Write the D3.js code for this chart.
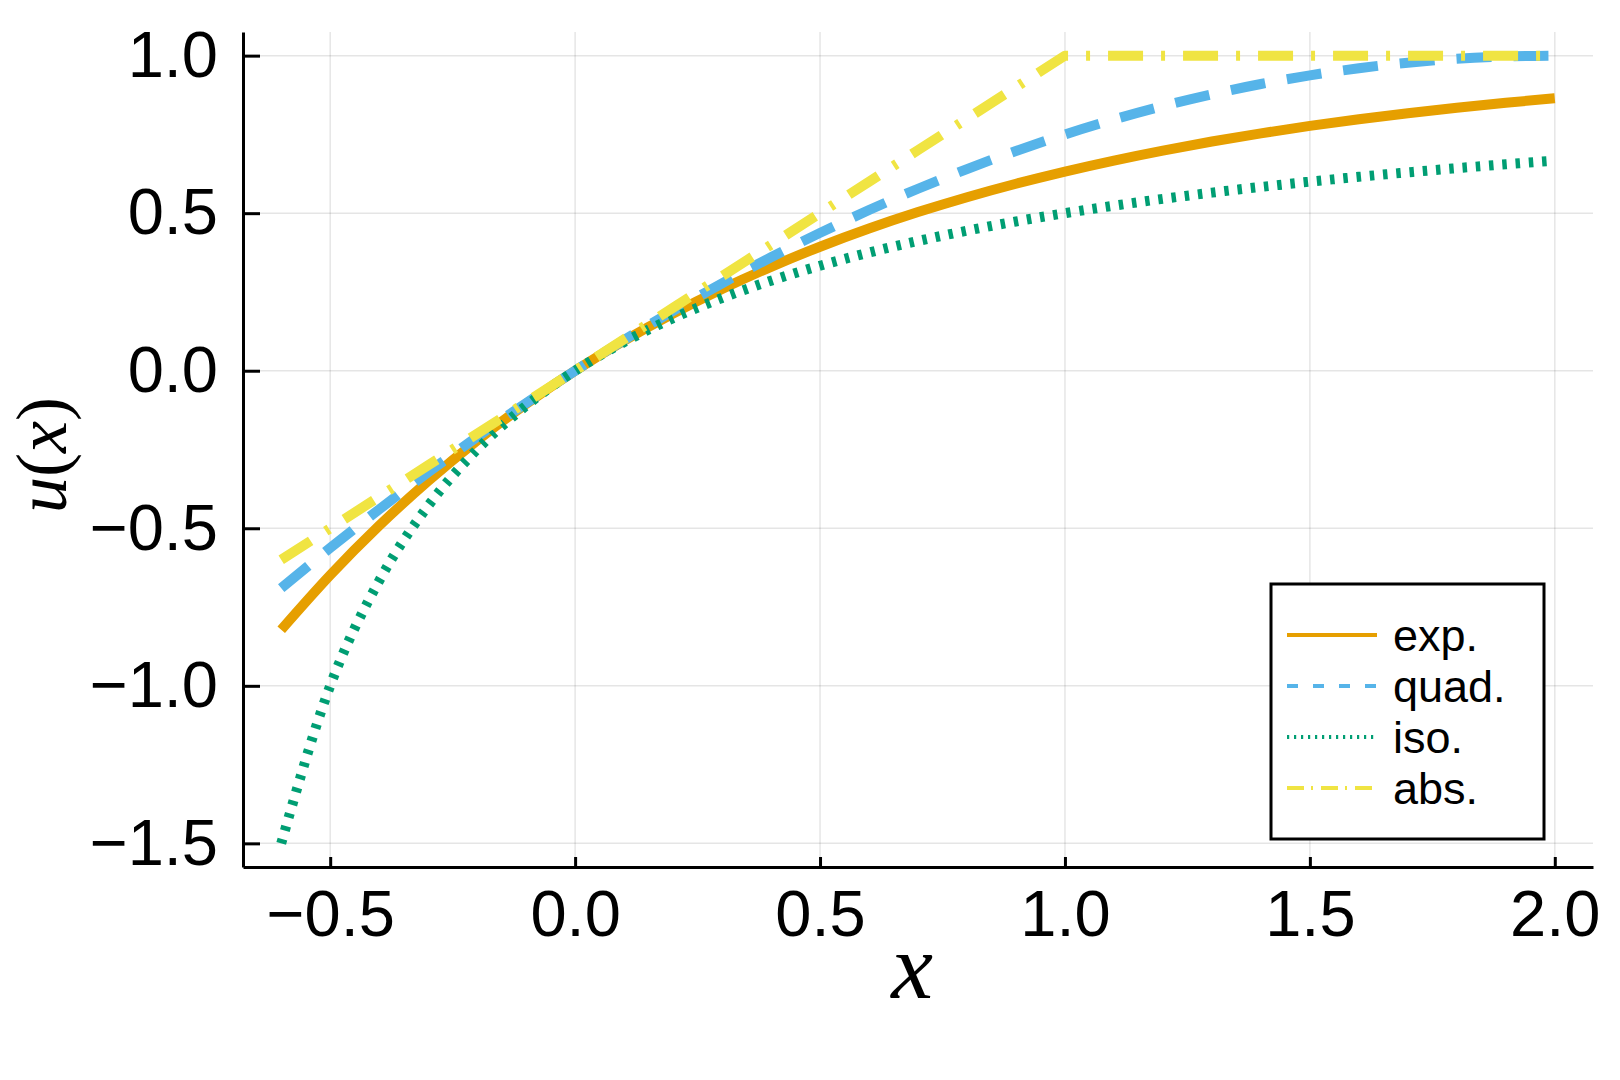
<!DOCTYPE html>
<html>
<head>
<meta charset="utf-8">
<script src="https://cdn.jsdelivr.net/npm/d3@7/dist/d3.min.js"></script>
<style>
  body { margin: 0; background: #fff; }
  svg { display: block; }
</style>
</head>
<body>
<div id="chart"></div>
<script>
'use strict';

// values
const xs = [-0.6, -0.5, -0.4, -0.3, -0.2, -0.1, 0.0, 0.1, 0.2, 0.3, 0.4, 0.5, 0.6,
    0.7, 0.8, 0.9, 1.0, 1.1, 1.2, 1.3, 1.4, 1.5, 1.6, 1.7, 1.8, 1.9, 2.0];
const expVals = [-0.8221, -0.6487, -0.4918, -0.3499, -0.2214, -0.1052, 0.0, 0.0952, 0.1813,
    0.2592, 0.3297, 0.3935, 0.4512, 0.5034, 0.5507, 0.5934, 0.6321, 0.6671, 0.6988,
    0.7275, 0.7534, 0.7769, 0.7981, 0.8173, 0.8347, 0.8504, 0.8647];
const quadVals = [-0.69, -0.5625, -0.44, -0.3225, -0.21, -0.1025, 0.0, 0.0975, 0.19,
    0.2775, 0.36, 0.4375, 0.51, 0.5775, 0.64, 0.6975, 0.75, 0.7975, 0.84,
    0.8775, 0.91, 0.9375, 0.96, 0.9775, 0.99, 0.9975, 1.0];
const isoVals = [-1.5, -1.0, -0.6667, -0.4286, -0.25, -0.1111, 0.0, 0.0909, 0.1667,
    0.2308, 0.2857, 0.3333, 0.375, 0.4118, 0.4444, 0.4737, 0.5, 0.5238, 0.5455,
    0.5652, 0.5833, 0.6, 0.6154, 0.6296, 0.6429, 0.6552, 0.6667];
const absVals = [-0.6, -0.5, -0.4, -0.3, -0.2, -0.1, 0.0, 0.1, 0.2, 0.3, 0.4, 0.5, 0.6,
    0.7, 0.8, 0.9, 1.0, 1.0, 1.0, 1.0, 1.0, 1.0, 1.0, 1.0, 1.0, 1.0, 1.0];
const xTicks = [-0.5, 0.0, 0.5, 1.0, 1.5, 2.0];
const yTicks = [-1.5, -1.0, -0.5, 0.0, 0.5, 1.0];
const names = ['exp.', 'quad.', 'iso.', 'abs.'];

const series = [
    {name: names[0], vals: expVals, color: '#E69F00', dash: null, legDash: null, curve: d3.curveMonotoneX},
    {name: names[1], vals: quadVals, color: '#56B4E9', dash: '35,22', legDash: '11,15', curve: d3.curveMonotoneX},
    {name: names[2], vals: isoVals, color: '#009E73', dash: '4.5,8.8', legDash: '2.2,4.8', curve: d3.curveMonotoneX},
    {name: names[3], vals: absVals, color: '#F0E442', dash: '35,18,4,18', legDash: '17,7,2,8', curve: d3.curveLinear}
];

const width = 1620;
const height = 1080;
const pLeft = 243, pRight = 1593, pTop = 32, pBottom = 867;
const sans = '"Liberation Sans", Arial, Helvetica, sans-serif';
const serif = '"Liberation Serif", "Times New Roman", serif';

const svg = d3.select('#chart').append('svg')
    .attr('width', width)
    .attr('height', height);
svg.append('rect').attr('width', width).attr('height', height).attr('fill', '#fff');

const x = d3.scaleLinear().domain([-0.678, 2.078]).range([pLeft, pRight]);
const y = d3.scaleLinear().domain([-1.575, 1.075]).range([pBottom, pTop]);

// grid
svg.append('g')
    .selectAll('line')
    .data(xTicks)
    .enter()
    .append('line')
    .attr('x1', d => x(d)).attr('x2', d => x(d))
    .attr('y1', pTop).attr('y2', pBottom)
    .attr('stroke', '#000').attr('stroke-opacity', 0.1).attr('stroke-width', 1.5);
svg.append('g')
    .selectAll('line')
    .data(yTicks)
    .enter()
    .append('line')
    .attr('y1', d => y(d)).attr('y2', d => y(d))
    .attr('x1', pLeft).attr('x2', pRight)
    .attr('stroke', '#000').attr('stroke-opacity', 0.1).attr('stroke-width', 1.5);

// curves
const plot = svg.append('g');
series.forEach(s => {
    const line = d3.line()
        .x((d, i) => x(xs[i]))
        .y(d => y(d))
        .curve(s.curve);
    plot.append('path')
        .datum(s.vals)
        .attr('d', line)
        .attr('fill', 'none')
        .attr('stroke', s.color)
        .attr('stroke-width', 10)
        .attr('stroke-linecap', 'butt')
        .attr('stroke-linejoin', 'round')
        .attr('stroke-dasharray', s.dash);
});

// axes
const fmt = d3.format('.1f');
const xAxis = svg.append('g')
    .attr('transform', `translate(0,${pBottom})`)
    .call(d3.axisBottom(x).tickValues(xTicks).tickFormat(fmt)
        .tickSizeInner(-10).tickSizeOuter(0).tickPadding(23));
const yAxis = svg.append('g')
    .attr('transform', `translate(${pLeft},0)`)
    .call(d3.axisLeft(y).tickValues(yTicks).tickFormat(fmt)
        .tickSizeInner(-17).tickSizeOuter(0).tickPadding(25));
[xAxis, yAxis].forEach(a => {
    a.select('.domain').attr('stroke', '#000').attr('stroke-width', 3);
    a.selectAll('.tick line').attr('stroke', '#000').attr('stroke-width', 3);
    a.selectAll('.tick text')
        .attr('fill', '#000')
        .style('font-family', sans)
        .style('font-size', '65px');
});

// axis labels
svg.append('text')
    .attr('x', 912).attr('y', 998)
    .attr('text-anchor', 'middle')
    .style('font-family', serif)
    .style('font-style', 'italic')
    .style('font-size', '94px')
    .text('x');

const yl = svg.append('text')
    .attr('transform', 'translate(66,455) rotate(-90)')
    .attr('text-anchor', 'middle')
    .style('font-family', serif)
    .style('font-size', '72px');
yl.append('tspan').style('font-style', 'italic').text('u');
yl.append('tspan').text('(');
yl.append('tspan').style('font-style', 'italic').text('x');
yl.append('tspan').text(')');

// legend
const leg = svg.append('g');
leg.append('rect')
    .attr('x', 1271).attr('y', 584)
    .attr('width', 273).attr('height', 255)
    .attr('fill', '#fff')
    .attr('stroke', '#000')
    .attr('stroke-width', 3);
const rowY = d3.scalePoint().domain(names).range([635, 788]);
const rows = leg.selectAll('g')
    .data(series)
    .enter()
    .append('g')
    .attr('transform', d => `translate(0,${rowY(d.name)})`);
rows.append('line')
    .attr('x1', 1287).attr('x2', 1377)
    .attr('stroke', d => d.color)
    .attr('stroke-width', 4)
    .attr('stroke-dasharray', d => d.legDash);
rows.append('text')
    .attr('x', 1393).attr('y', 16)
    .style('font-family', sans)
    .style('font-size', '45px')
    .text(d => d.name);
</script>
</body>
</html>
